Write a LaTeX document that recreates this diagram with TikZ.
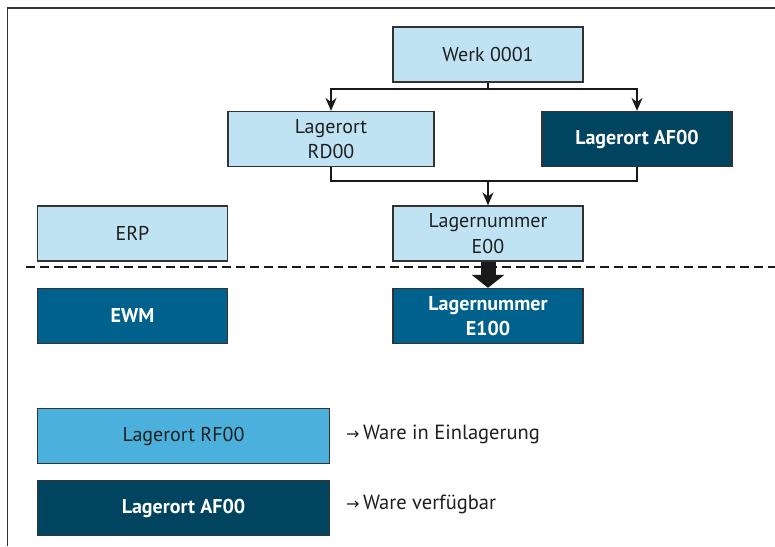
\documentclass[tikz,border=0pt]{standalone}
\usepackage{fontspec}
\setmainfont{PT Sans}
\newfontfamily\arrowfont{DejaVu Sans}
\usetikzlibrary{arrows.meta}
\definecolor{lightblue}{HTML}{C0E3F4}
\definecolor{midblue}{HTML}{4BB1DC}
\definecolor{tealblue}{HTML}{00628C}
\definecolor{darkblue}{HTML}{00445F}
\definecolor{edgegray}{HTML}{333333}
\tikzset{
  box/.style={draw=edgegray, line width=1.3pt, minimum width=#1, minimum height=55pt, inner sep=0pt, align=center, font=\fontsize{20}{25.5}\selectfont},
  lightbox/.style={box=#1, fill=lightblue, text=black!88},
  midbox/.style={box=#1, fill=midblue, text=black!88},
  tealbox/.style={box=#1, fill=tealblue, text=white, font=\fontsize{20}{25.5}\selectfont\bfseries},
  darkbox/.style={box=#1, fill=darkblue, text=white, font=\fontsize{20}{25.5}\selectfont\bfseries},
  conn/.style={line width=1.6pt, draw=black!90},
  arr/.style={conn, -{Stealth[length=13pt,width=11pt]}},
  legend/.style={anchor=west, inner sep=0pt, font=\fontsize{20.5}{25}\selectfont, text=black!88}
}
\begin{document}
\begin{tikzpicture}[x=1pt,y=-1pt]
\useasboundingbox (0,0) rectangle (775,546);
\fill[white] (0,0) rectangle (775,546);
% frame
\draw[edgegray, line width=1.5pt] (7.5,546) -- (7.5,8) -- (775,8);
% nodes
\node[lightbox=190pt] (werk) at (488,54.5) {Werk 0001};
\node[lightbox=206pt] (rd) at (331,139) {Lagerort\\RD00};
\node[darkbox=190pt] (af) at (637,139) {Lagerort AF00};
\node[lightbox=190pt] (erp) at (132.5,233.5) {ERP};
\node[lightbox=190pt] (e00) at (488,233.5) {Lagernummer\\E00};
\node[tealbox=190pt] (ewm) at (132.5,316) {EWM};
\node[tealbox=190pt] (e100) at (488,316) {Lagernummer\\E100};
\node[midbox=292pt] (rf) at (183.5,436) {Lagerort RF00};
\node[darkbox=292pt] (afl) at (183.5,508) {Lagerort AF00};
\node[legend] (t1) at (346,434) {{\arrowfont\fontsize{16}{18}\selectfont →}\,Ware in Einlagerung};
\node[legend] (t2) at (346,504) {{\arrowfont\fontsize{16}{18}\selectfont →}\,Ware verfügbar};
% dashed separator
\coordinate (dl) at (26,267);
\coordinate (dr) at (775,267);
\draw[line width=1.6pt, dash pattern=on 9pt off 5pt, black!90] (dl) -- (dr);
% connectors
\coordinate (j1) at (488,89);
\coordinate (j2) at (488,181);
\draw[conn] (werk.south) -- (j1);
\draw[arr] (j1) -| (rd.north);
\draw[arr] (j1) -| (af.north);
\draw[conn] (rd.south) |- (j2) -| (af.south);
\draw[arr] (j2) -- (e00.north);
\draw[line width=15pt, black!90, -{Triangle[length=13pt,width=32pt]}] (e00.south) -- (e100.north);
\end{tikzpicture}
\end{document}
